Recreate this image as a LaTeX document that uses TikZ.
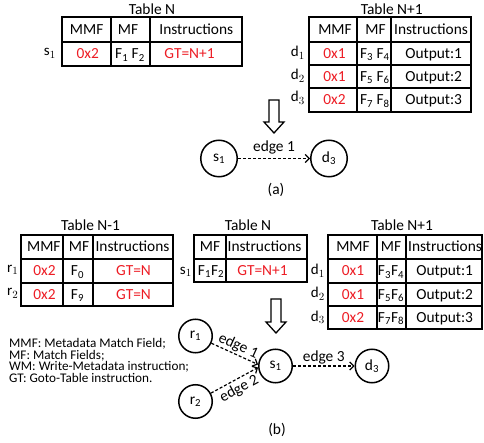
\documentclass[tikz,border=0pt]{standalone}
\usepackage{fontspec}
\setmainfont{Carlito}
\usetikzlibrary{arrows.meta}
\definecolor{valred}{RGB}{237,28,36}
\newcommand\sbs[1]{\textsubscript{#1}}
\tikzset{
  txt/.style={font=\fontsize{15.4}{17}\selectfont, inner sep=0pt, text height=9.9pt, text depth=0pt},
  val/.style={txt, text=valred},
  rowlbl/.style={font=\fontsize{15}{16}\selectfont, inner sep=0pt, anchor=base east},
  frame/.style={line width=1.8pt},
  coldiv/.style={line width=1.2pt},
  vertexa/.style={circle, draw, line width=1.5pt, minimum size=36.5pt, inner sep=0pt, font=\fontsize{15.4}{17}\selectfont},
  vertexb/.style={vertexa, minimum size=33.5pt},
  flow/.style={line width=1.2pt, dash pattern=on 3pt off 2pt, -{Straight Barb[length=4pt,width=8pt]}},
  hollow/.style={draw, line width=1.3pt, fill=white, line join=miter},
  legend/.style={font=\fontsize{13.2}{11.7}\selectfont, inner sep=0pt, anchor=base west},
  caption/.style={font=\fontsize{15.4}{17}\selectfont, inner sep=0pt},
}
\begin{document}
\begin{tikzpicture}[x=1pt, y=-1pt]
\useasboundingbox (0,0) rectangle (484,443);

% ---------------- (a) ----------------
% Table N
\draw[frame] (62,17) rectangle (242,66);
\draw[frame] (62,42) -- (242,42);
\draw[coldiv] (111,17) -- (111,66) (150,17) -- (150,66);
\node[txt] (aN-t) at (152,10) {Table N};
\node[txt] (aN-h1) at (86.7,29.5) {MMF};
\node[txt] (aN-h2) at (128,29.5) {MF};
\node[txt] (aN-h3) at (196.3,29.5) {Instructions};
\node[val] (aN-c1) at (87.8,54) {0x2};
\node[txt] (aN-c2) at (130,54) {F\sbs{1} F\sbs{2}};
\node[val] (aN-c3) at (189.5,54) {GT=N+1};
\node[rowlbl] (aN-s1) at (56,56) {$\mathrm{s}_1$};

% Table N+1
\draw[frame] (309,17) rectangle (471,112);
\draw[frame] (309,42) -- (471,42) (309,65) -- (471,65) (309,88) -- (471,88);
\draw[coldiv] (357,17) -- (357,112) (391,17) -- (391,112);
\node[txt] (aM-t) at (391.7,10) {Table N+1};
\node[txt] (aM-h1) at (335,29.5) {MMF};
\node[txt] (aM-h2) at (375.5,29.5) {MF};
\node[txt] (aM-h3) at (431,29.5) {Instructions};
\node[val] (aM-r1a) at (334.5,53.5) {0x1};
\node[txt] (aM-r1b) at (374.8,53.5) {F\sbs{3} F\sbs{4}};
\node[txt] (aM-r1c) at (433.7,53.5) {Output:1};
\node[val] (aM-r2a) at (334.5,76.5) {0x1};
\node[txt] (aM-r2b) at (374.8,76.5) {F\sbs{5} F\sbs{6}};
\node[txt] (aM-r2c) at (433.7,76.5) {Output:2};
\node[val] (aM-r3a) at (334.5,100) {0x2};
\node[txt] (aM-r3b) at (374.8,100) {F\sbs{7} F\sbs{8}};
\node[txt] (aM-r3c) at (433.7,100) {Output:3};
\node[rowlbl] (aM-d1) at (305,57) {$\mathrm{d}_1$};
\node[rowlbl] (aM-d2) at (305,80) {$\mathrm{d}_2$};
\node[rowlbl] (aM-d3) at (305,102) {$\mathrm{d}_3$};

% transformation arrow
\draw[hollow] (269,100) -- (279,100) -- (279,122) -- (284,122) -- (274,133)
  -- (264,122) -- (269,122) -- cycle;

% graph
\node[vertexa] (a-s1) at (219,158.5) {s\sbs{1}};
\node[vertexa] (a-d3) at (329,158.5) {d\sbs{3}};
\draw[flow] (a-s1) -- node[txt, above=6pt] (a-e1) {edge 1} (a-d3);
\node[caption] (a-cap) at (276,190) {(a)};

% ---------------- (b) ----------------
% Table N-1
\draw[frame] (21,235) rectangle (173,306);
\draw[frame] (21,259) -- (173,259) (21,283) -- (173,283);
\draw[coldiv] (63,235) -- (63,306) (93,235) -- (93,306);
\node[txt] (bL-t) at (90.5,225.5) {Table N-1};
\node[txt] (bL-h1) at (43.8,247) {MMF};
\node[txt] (bL-h2) at (79,247) {MF};
\node[txt] (bL-h3) at (132.5,247) {Instructions};
\node[val] (bL-r1a) at (44.5,271) {0x2};
\node[txt] (bL-r1b) at (77.5,271) {F\sbs{0}};
\node[val] (bL-r1c) at (133.5,271) {GT=N};
\node[val] (bL-r2a) at (44.5,294.5) {0x2};
\node[txt] (bL-r2b) at (77.5,294.5) {F\sbs{9}};
\node[val] (bL-r2c) at (133.5,294.5) {GT=N};
\node[rowlbl] (bL-r1) at (18.5,272.7) {$\mathrm{r}_1$};
\node[rowlbl] (bL-r2) at (18.5,296) {$\mathrm{r}_2$};

% Table N
\draw[frame] (194,235) rectangle (307,282);
\draw[frame] (194,259) -- (307,259);
\draw[coldiv] (226,235) -- (226,282);
\node[txt] (bN-t) at (248,225.5) {Table N};
\node[txt] (bN-h1) at (210,247) {MF};
\node[txt] (bN-h2) at (264.5,247) {Instructions};
\node[txt] (bN-c1) at (211,270.5) {F\sbs{1}F\sbs{2}};
\node[val] (bN-c2) at (262.5,270.5) {GT=N+1};
\node[rowlbl] (bN-s1) at (192,274.3) {$\mathrm{s}_1$};

% Table N+1
\draw[frame] (328,235) rectangle (482,329);
\draw[frame] (328,259) -- (482,259) (328,283) -- (482,283) (328,306) -- (482,306);
\draw[coldiv] (377,235) -- (377,329) (406,235) -- (406,329);
\node[txt] (bM-t) at (402,225.5) {Table N+1};
\node[txt] (bM-h1) at (353,247) {MMF};
\node[txt] (bM-h2) at (391,247) {MF};
\node[txt] (bM-h3) at (445,247) {Instructions};
\node[val] (bM-r1a) at (353,271) {0x1};
\node[txt] (bM-r1b) at (391,271) {F\sbs{3}F\sbs{4}};
\node[txt] (bM-r1c) at (444.7,271) {Output:1};
\node[val] (bM-r2a) at (353,294.5) {0x1};
\node[txt] (bM-r2b) at (391,294.5) {F\sbs{5}F\sbs{6}};
\node[txt] (bM-r2c) at (444.7,294.5) {Output:2};
\node[val] (bM-r3a) at (353,317.5) {0x2};
\node[txt] (bM-r3b) at (391,317.5) {F\sbs{7}F\sbs{8}};
\node[txt] (bM-r3c) at (444.7,317.5) {Output:3};
\node[rowlbl] (bM-d1) at (325,275) {$\mathrm{d}_1$};
\node[rowlbl] (bM-d2) at (325,298) {$\mathrm{d}_2$};
\node[rowlbl] (bM-d3) at (325,321) {$\mathrm{d}_3$};

% transformation arrow
\draw[hollow] (271,299) -- (281,299) -- (281,322) -- (286,322) -- (276,333)
  -- (266,322) -- (271,322) -- cycle;

% legend
\node[legend] (lg1) at (9,347.3) {MMF: Metadata Match Field;};
\node[legend] (lg2) at (9,359) {MF: Match Fields;};
\node[legend] (lg3) at (9,370.7) {WM: Write-Metadata instruction;};
\node[legend] (lg4) at (9,382.3) {GT: Goto-Table instruction.};

% graph
\node[vertexb] (b-r1) at (195.5,336) {r\sbs{1}};
\node[vertexb] (b-r2) at (195.5,401.5) {r\sbs{2}};
\node[vertexb] (b-s1) at (275.5,366) {s\sbs{1}};
\node[vertexb] (b-d3) at (372,366) {d\sbs{3}};
\draw[flow] (b-r1) -- node[txt, sloped, above=4pt] (b-e1) {edge 1} (b-s1.175);
\draw[flow] (b-r2) -- node[txt, sloped, below=3.5pt] (b-e2) {edge 2} (b-s1.185);
\draw[flow] (b-s1) -- node[txt, above=4pt] (b-e3) {edge 3} (b-d3);
\node[caption] (b-cap) at (277,430) {(b)};
\end{tikzpicture}
\end{document}
